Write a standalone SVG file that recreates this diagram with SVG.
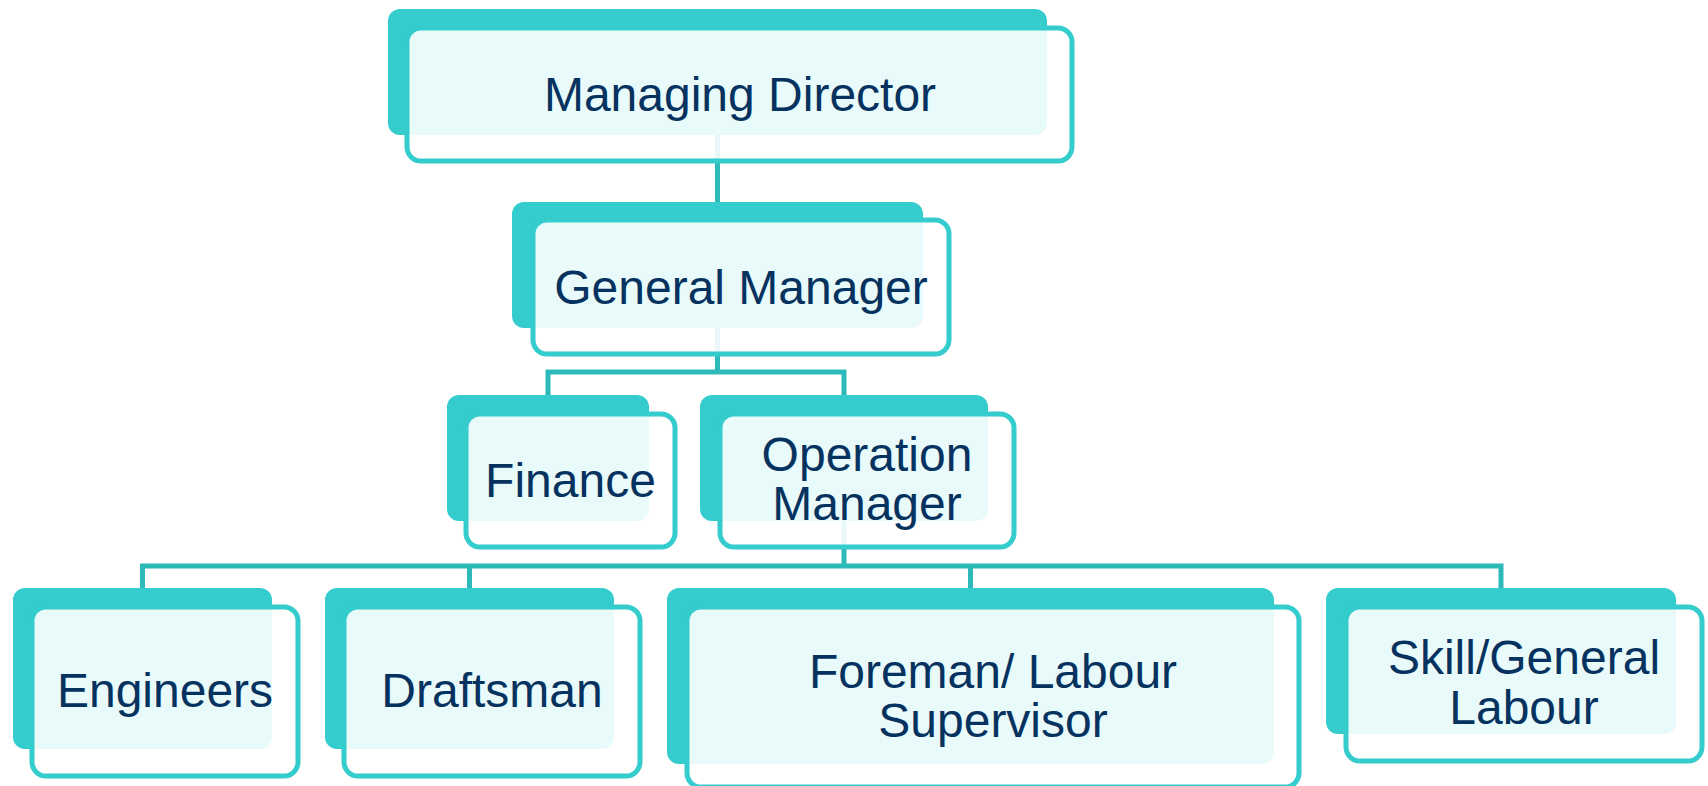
<svg xmlns="http://www.w3.org/2000/svg" width="1708" height="786" viewBox="0 0 1708 786">
<style>
.back{fill:#34CCCC}
.front{fill:#FFFFFF;fill-opacity:0.89;stroke:#34CCCC;stroke-width:5}
.lbl{font-family:"Liberation Sans",Arial,sans-serif;font-size:48px;fill:#06325F;text-anchor:middle}
.conn{fill:none;stroke:#2EB9B9;stroke-width:5;stroke-linejoin:miter;stroke-linecap:butt}
</style>
<rect width="1708" height="786" fill="#FFFFFF"/>
<g id="connectors">
<path class="conn" d="M717.5,130 V210"/>
<path class="conn" d="M717.5,320 V372 M548,400 V372 H844 V400"/>
<path class="conn" d="M844,515 V566 M142.5,592 V566 H1501 V592 M469.5,566 V592 M970.5,566 V592"/>
</g>
<g id="node-md">
<rect class="back" x="388" y="9" width="659" height="126" rx="12"/>
<rect class="front" x="407" y="28" width="665" height="133" rx="14"/>
<text class="lbl" x="740" y="111">Managing Director</text>
</g>
<g id="node-gm">
<rect class="back" x="512" y="202" width="411" height="126" rx="12"/>
<rect class="front" x="533" y="220" width="416" height="134" rx="14"/>
<text class="lbl" x="741" y="304">General Manager</text>
</g>
<g id="node-finance">
<rect class="back" x="447" y="395" width="202" height="126" rx="12"/>
<rect class="front" x="466" y="414" width="209" height="133" rx="14"/>
<text class="lbl" x="570.5" y="497">Finance</text>
</g>
<g id="node-om">
<rect class="back" x="700" y="395" width="288" height="126" rx="12"/>
<rect class="front" x="720" y="414" width="294" height="133" rx="14"/>
<text class="lbl" x="867" y="471">Operation</text>
<text class="lbl" x="867" y="520">Manager</text>
</g>
<g id="node-engineers">
<rect class="back" x="13" y="588" width="259" height="161" rx="12"/>
<rect class="front" x="32" y="607" width="266" height="169" rx="14"/>
<text class="lbl" x="165" y="707">Engineers</text>
</g>
<g id="node-draftsman">
<rect class="back" x="325" y="588" width="289" height="161" rx="12"/>
<rect class="front" x="344" y="607" width="296" height="169" rx="14"/>
<text class="lbl" x="492" y="707">Draftsman</text>
</g>
<g id="node-foreman">
<rect class="back" x="667" y="588" width="607" height="176" rx="12"/>
<rect class="front" x="687" y="607" width="612" height="180" rx="14"/>
<text class="lbl" x="993" y="688">Foreman/ Labour</text>
<text class="lbl" x="993" y="737">Supervisor</text>
</g>
<g id="node-skill">
<rect class="back" x="1326" y="588" width="350" height="146" rx="12"/>
<rect class="front" x="1346" y="607" width="356" height="154" rx="14"/>
<text class="lbl" x="1524" y="674">Skill/General</text>
<text class="lbl" x="1524" y="724">Labour</text>
</g>
</svg>
